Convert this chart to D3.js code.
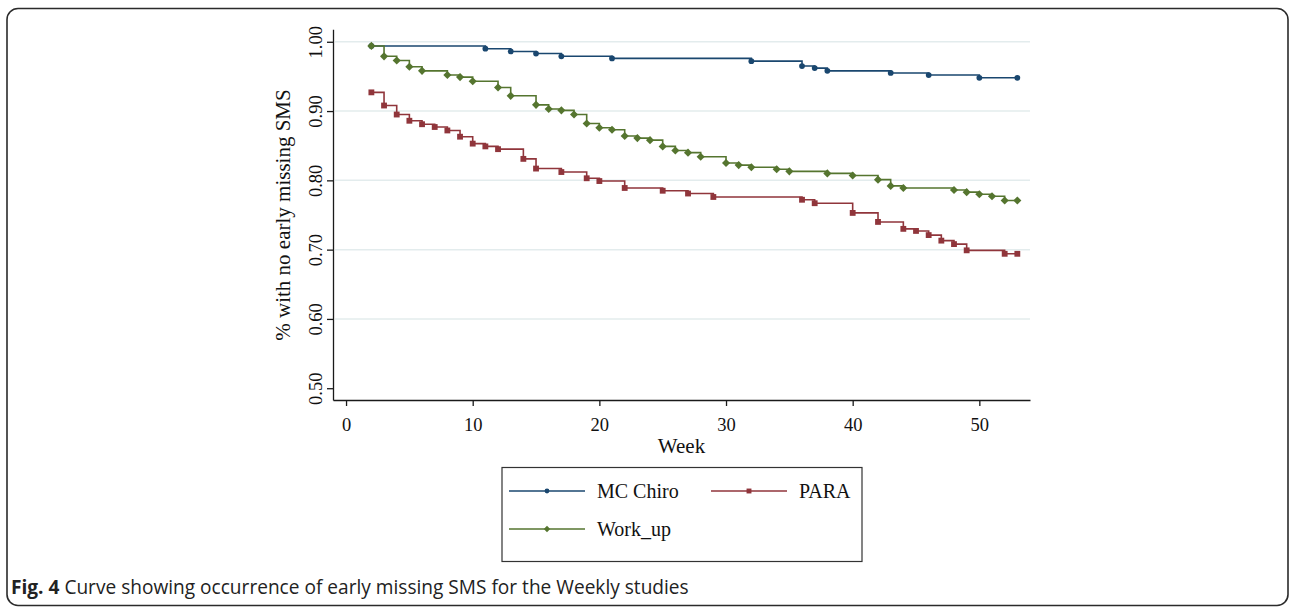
<!DOCTYPE html>
<html>
<head>
<meta charset="utf-8">
<script src="https://cdn.jsdelivr.net/npm/d3@7"></script>
<style>
  html, body { margin: 0; padding: 0; background: #fff; }
  svg { display: block; }
</style>
</head>
<body>
<svg id="chart" width="1292" height="607"></svg>
<script>
// ---------- data ----------
const xTicks = [0, 10, 20, 30, 40, 50];
const yTicks = [0.5, 0.6, 0.7, 0.8, 0.9, 1.0];
const gridTicks = [0.6, 0.7, 0.8, 0.9, 1.0];

const seriesNames = ["MC Chiro", "PARA", "Work_up"];

const mcWeeks = [2, 11, 13, 15, 17, 21, 32, 36, 37, 38, 43, 46, 50, 53];
const mcValues = [0.994, 0.990, 0.986, 0.983, 0.979, 0.976, 0.972, 0.965, 0.962, 0.958, 0.955, 0.952, 0.948, 0.948];

const paraWeeks = [2, 3, 4, 5, 6, 7, 8, 9, 10, 11, 12, 14, 15, 17, 19, 20, 22, 25, 27, 29, 36, 37, 40, 42, 44, 45, 46, 47, 48, 49, 52, 53];
const paraValues = [0.927, 0.908, 0.895, 0.886, 0.881, 0.877, 0.872, 0.863, 0.853, 0.849, 0.845, 0.831, 0.817, 0.812, 0.803, 0.799, 0.789, 0.785, 0.781, 0.776, 0.772, 0.767, 0.753, 0.740, 0.730, 0.727, 0.721, 0.713, 0.708, 0.699, 0.694, 0.694];

const workWeeks = [2, 3, 4, 5, 6, 8, 9, 10, 12, 13, 15, 16, 17, 18, 19, 20, 21, 22, 23, 24, 25, 26, 27, 28, 30, 31, 32, 34, 35, 38, 40, 42, 43, 44, 48, 49, 50, 51, 52, 53];
const workValues = [0.994, 0.979, 0.973, 0.964, 0.958, 0.952, 0.949, 0.943, 0.934, 0.922, 0.909, 0.903, 0.901, 0.895, 0.882, 0.876, 0.873, 0.864, 0.861, 0.858, 0.849, 0.843, 0.840, 0.834, 0.825, 0.822, 0.819, 0.816, 0.813, 0.810, 0.807, 0.801, 0.792, 0.789, 0.786, 0.783, 0.780, 0.777, 0.771, 0.771];

const xTitle = "Week";
const yTitle = "% with no early missing SMS";
const captionBold = "Fig. 4";
const captionText = " Curve showing occurrence of early missing SMS for the Weekly studies";

// ---------- layout ----------
const svg = d3.select("#chart");
const serif = "'Liberation Serif', 'Times New Roman', serif";
const colors = { "MC Chiro": "#1a476f", "PARA": "#90353b", "Work_up": "#55752f" };

const x = d3.scaleLinear().domain([-1.03, 54.0]).range([333, 1030]);
const y = d3.scaleLinear().domain([0.483, 1.018]).range([400, 29.3]);

// outer frame
svg.append("rect")
  .attr("x", 7).attr("y", 8.5).attr("width", 1281).attr("height", 597)
  .attr("rx", 11).attr("ry", 11)
  .attr("fill", "none").attr("stroke", "#2b2b2b").attr("stroke-width", 1.6);

// gridlines
svg.append("g").selectAll("line").data(gridTicks).join("line")
  .attr("x1", 335).attr("x2", 1030)
  .attr("y1", d => y(d)).attr("y2", d => y(d))
  .attr("stroke", "#e3eced").attr("stroke-width", 1.5);

// axes
const xAxis = svg.append("g").attr("transform", "translate(0,400)")
  .call(d3.axisBottom(x).tickValues(xTicks).tickSize(6).tickSizeOuter(0).tickPadding(12));
xAxis.selectAll("text").attr("font-family", serif).attr("font-size", 18.5).attr("fill", "#111");

const yAxis = svg.append("g").attr("transform", "translate(333,0)")
  .call(d3.axisLeft(y).tickValues(yTicks).tickSize(6).tickSizeOuter(0).tickFormat(d3.format(".2f")));
yAxis.selectAll("text")
  .attr("x", null).attr("dy", null)
  .attr("text-anchor", "middle")
  .attr("transform", "translate(-11.5,0) rotate(-90)")
  .attr("font-family", serif).attr("font-size", 18.5).attr("fill", "#111");

[xAxis, yAxis].forEach(a => {
  a.select(".domain").attr("stroke", "#1a1a1a").attr("stroke-width", 1.3);
  a.selectAll(".tick line").attr("stroke", "#1a1a1a").attr("stroke-width", 1.3);
});

// axis titles
svg.append("text").text(xTitle)
  .attr("x", 681.5).attr("y", 453)
  .attr("text-anchor", "middle")
  .attr("font-family", serif).attr("font-size", 21).attr("fill", "#111");

svg.append("text").text(yTitle)
  .attr("text-anchor", "middle")
  .attr("transform", "translate(290,215) rotate(-90)")
  .attr("font-family", serif).attr("font-size", 21).attr("fill", "#111");

// series
const series = [
  { name: "MC Chiro", weeks: mcWeeks, values: mcValues, marker: "circle" },
  { name: "PARA", weeks: paraWeeks, values: paraValues, marker: "square" },
  { name: "Work_up", weeks: workWeeks, values: workValues, marker: "diamond" }
];

const symbolFor = {
  circle: d3.symbol().type(d3.symbolCircle).size(26),
  square: d3.symbol().type(d3.symbolSquare).size(34),
  diamond: d3.symbol().type(d3.symbolDiamond2).size(42)
};

const line = d3.line().curve(d3.curveStepAfter).x(d => x(d[0])).y(d => y(d[1]));

const drawOrder = ["MC Chiro", "PARA", "Work_up"];
drawOrder.forEach(nm => {
  const s = series.find(t => t.name === nm);
  const pts = s.weeks.map((w, i) => [w, s.values[i]]);
  const g = svg.append("g");
  g.append("path").datum(pts)
    .attr("d", line)
    .attr("fill", "none").attr("stroke", colors[nm]).attr("stroke-width", 1.6);
  g.selectAll("path.m").data(pts).join("path").attr("class", "m")
    .attr("d", symbolFor[s.marker])
    .attr("transform", d => `translate(${x(d[0])},${y(d[1])})`)
    .attr("fill", colors[nm]);
});

// legend
const lg = svg.append("g");
lg.append("rect")
  .attr("x", 502).attr("y", 467.5).attr("width", 360).attr("height", 94)
  .attr("fill", "#fff").attr("stroke", "#333").attr("stroke-width", 1.2);

const legendItems = [
  { name: "MC Chiro", marker: "circle", lx: 509, ly: 491 },
  { name: "PARA", marker: "square", lx: 711, ly: 491 },
  { name: "Work_up", marker: "diamond", lx: 509, ly: 529 }
];
const legendSymbol = {
  circle: d3.symbol().type(d3.symbolCircle).size(18),
  square: d3.symbol().type(d3.symbolSquare).size(24),
  diamond: d3.symbol().type(d3.symbolDiamond2).size(26)
};
legendItems.forEach(it => {
  lg.append("line")
    .attr("x1", it.lx).attr("x2", it.lx + 76)
    .attr("y1", it.ly).attr("y2", it.ly)
    .attr("stroke", colors[it.name]).attr("stroke-width", 1.6);
  lg.append("path")
    .attr("d", legendSymbol[it.marker])
    .attr("transform", `translate(${it.lx + 38},${it.ly})`)
    .attr("fill", colors[it.name]);
  lg.append("text").text(it.name)
    .attr("x", it.lx + 88).attr("y", it.ly + 6.5)
    .attr("font-family", serif).attr("font-size", 20).attr("fill", "#111");
});

// caption
const cap = svg.append("text")
  .attr("x", 11).attr("y", 594)
  .attr("font-family", "'Open Sans', 'Noto Sans', sans-serif")
  .attr("font-size", 16).attr("fill", "#222");
cap.append("tspan").text(captionBold).attr("font-weight", "bold");
cap.append("tspan").text(captionText);
// fit caption width to the reference (~678 px)
const w = cap.node().getComputedTextLength();
cap.attr("font-size", 16 * 678 / w);
</script>
</body>
</html>
